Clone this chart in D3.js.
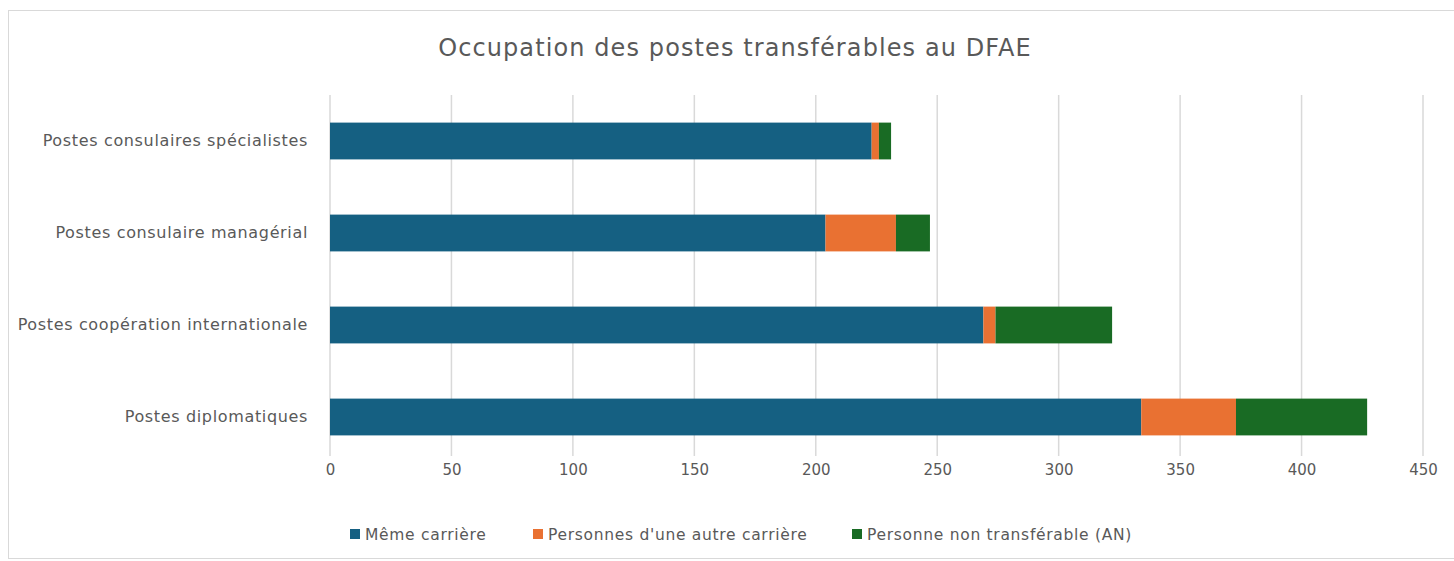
<!DOCTYPE html>
<html><head><meta charset="utf-8">
<script src="https://cdn.jsdelivr.net/npm/d3@7"></script>
<style>body{margin:0;background:#fff;}svg{display:block;font-family:"DejaVu Sans",sans-serif;}</style>
</head><body><svg id="c" width="1454" height="561"></svg>
<script>
const categories = ["Postes consulaires spécialistes","Postes consulaire managérial","Postes coopération internationale","Postes diplomatiques"];
const seriesNames = ["Même carrière","Personnes d'une autre carrière","Personne non transférable (AN)"];
const memeCarriere = [223, 204, 269, 334];
const autreCarriere = [3, 29, 5, 39];
const nonTransferable = [5, 14, 48, 54];
const tickValues = [0,50,100,150,200,250,300,350,400,450];
const colors = ["#156082","#E97132","#196B24"];

const svg = d3.select("#c");
svg.append("rect").attr("x",8.5).attr("y",10.5).attr("width",1460).attr("height",548).attr("fill","none").attr("stroke","#d9d9d9");

const x = d3.scaleLinear().domain([0,450]).range([330,1423]);
const y = d3.scaleBand().domain(categories).range([95,463]).paddingInner(0.6).paddingOuter(0.3);

svg.append("text").attr("x",735).attr("y",56).attr("text-anchor","middle").attr("fill","#595959").attr("font-size",24).attr("letter-spacing",1.1).text("Occupation des postes transférables au DFAE");

svg.append("g").selectAll("line").data(tickValues).join("line")
 .attr("x1",d=>x(d)).attr("x2",d=>x(d)).attr("y1",95).attr("y2",456).attr("stroke","#d9d9d9").attr("stroke-width",1.5);

const data = categories.map((c,i)=>({cat:c, v:[memeCarriere[i],autreCarriere[i],nonTransferable[i]]}));
const rows = data.map(d=>{let acc=0;return d.v.map((v,k)=>{const r={cat:d.cat,k,x0:acc,x1:acc+v};acc+=v;return r;});}).flat();
svg.append("g").selectAll("rect").data(rows).join("rect")
 .attr("x",d=>x(d.x0)).attr("width",d=>x(d.x1)-x(d.x0))
 .attr("y",d=>y(d.cat)).attr("height",y.bandwidth()).attr("fill",d=>colors[d.k]);

const ax = svg.append("g").attr("transform","translate(0,456)").call(d3.axisBottom(x).tickValues(tickValues).tickSize(0).tickPadding(8));
ax.select(".domain").remove();
ax.selectAll("text").attr("fill","#595959").attr("font-size",15).attr("font-family","DejaVu Sans");

const ay = svg.append("g").attr("transform","translate(308,0)").call(d3.axisLeft(y).tickSize(0).tickPadding(0));
ay.select(".domain").remove();
ay.selectAll("text").attr("fill","#595959").attr("font-size",16).attr("letter-spacing",0.65).attr("font-family","DejaVu Sans");

const legX = [350, 533, 852];
const lg = svg.append("g").selectAll("g").data(seriesNames).join("g").attr("transform",(d,i)=>`translate(${legX[i]},534)`);
lg.append("rect").attr("x",0).attr("y",-5).attr("width",10).attr("height",10).attr("fill",(d,i)=>colors[i]);
lg.append("text").attr("x",15).attr("y",5.5).attr("fill","#595959").attr("font-size",15.5).attr("letter-spacing",0.7).text(d=>d);
</script></body></html>
